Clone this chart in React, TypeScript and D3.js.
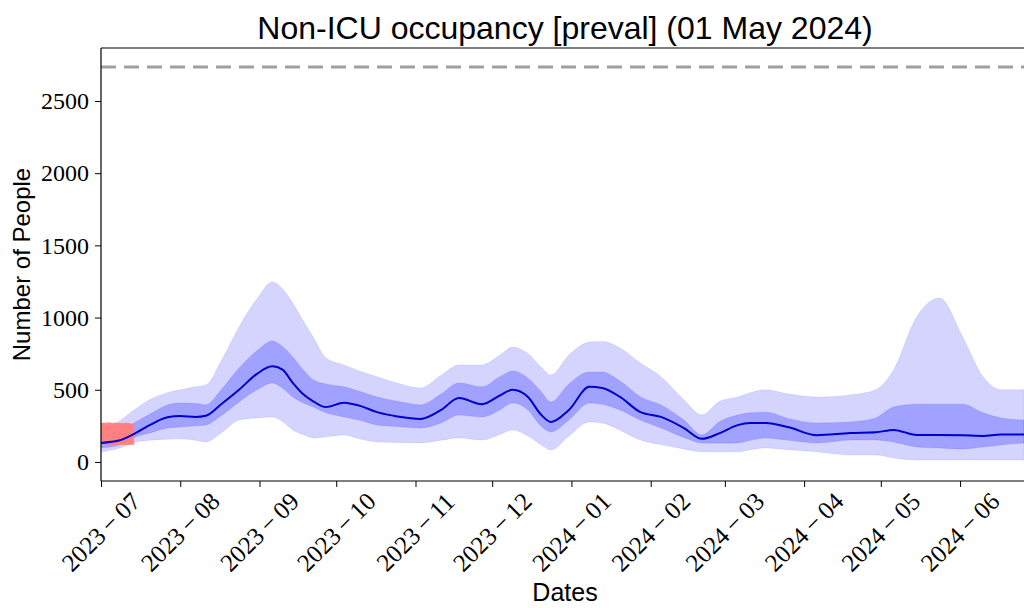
import { useRef, useEffect } from "react";
import * as d3 from "d3";

// forecast dates (weekly-ish samples)
const dates = [
  "2023-07-01", "2023-07-08", "2023-07-14", "2023-07-20", "2023-07-27",
  "2023-08-01", "2023-08-07", "2023-08-11", "2023-08-17", "2023-08-24",
  "2023-08-31", "2023-09-06", "2023-09-10", "2023-09-14", "2023-09-18",
  "2023-09-22", "2023-09-27", "2023-10-04", "2023-10-10", "2023-10-17",
  "2023-10-25", "2023-11-03", "2023-11-11", "2023-11-18", "2023-11-27",
  "2023-12-04", "2023-12-09", "2023-12-15", "2023-12-20", "2023-12-24",
  "2023-12-31", "2024-01-08", "2024-01-13", "2024-01-20", "2024-01-28",
  "2024-02-05", "2024-02-14", "2024-02-21", "2024-02-28", "2024-03-06",
  "2024-03-11", "2024-03-17", "2024-03-26", "2024-04-06", "2024-04-19",
  "2024-04-29", "2024-05-06", "2024-05-15", "2024-05-24", "2024-06-02",
  "2024-06-10", "2024-06-17", "2024-06-26",
];

const median = [
  132, 148, 195, 255, 310, 318, 312, 320, 400, 500,
  610, 662, 640, 547, 470, 420, 380, 410, 390, 345,
  315, 298, 360, 443, 400, 460, 500, 450, 330, 277,
  360, 520, 512, 450, 345, 312, 235, 160, 200, 255,
  270, 270, 240, 185, 200, 205, 222, 187, 187, 185,
  180, 190, 190,
];

const lower50 = [
  97, 115, 170, 200, 235, 242, 250, 256, 320, 415,
  500, 547, 510, 450, 410, 380, 340, 312, 290, 256,
  245, 235, 270, 325, 312, 360, 408, 360, 250, 208,
  290, 408, 400, 360, 290, 235, 170, 132, 130, 132,
  150, 166, 150, 132, 152, 152, 138, 104, 97, 90,
  104, 118, 132,
];

const upper50 = [
  173, 215, 270, 330, 395, 408, 405, 395, 500, 650,
  770, 838, 800, 727, 640, 568, 540, 520, 490, 450,
  420, 395, 470, 547, 520, 590, 630, 580, 490, 415,
  540, 623, 623, 560, 450, 395, 290, 187, 280, 325,
  340, 345, 300, 270, 277, 305, 380, 400, 400, 400,
  340, 305, 290,
];

const lower95 = [
  70, 95, 135, 150, 158, 160, 150, 138, 200, 290,
  305, 312, 280, 222, 190, 166, 175, 187, 160, 138,
  135, 132, 150, 166, 152, 190, 222, 180, 120, 83,
  180, 277, 270, 220, 152, 120, 90, 70, 70, 70,
  85, 97, 85, 70, 48, 48, 28, 14, 14, 14,
  14, 14, 14,
];

const upper95 = [
  208, 280, 360, 430, 480, 500, 520, 533, 700, 935,
  1130, 1247, 1200, 1100, 980, 865, 720, 672, 630, 590,
  545, 512, 600, 672, 672, 740, 796, 750, 660, 602,
  740, 830, 835, 790, 685, 590, 430, 325, 420, 450,
  480, 500, 470, 450, 464, 500, 637, 1004, 1135, 865,
  590, 500, 500,
];

// observed data (red markers), several per day
const obsDates = [
  "2023-07-01", "2023-07-02", "2023-07-03", "2023-07-04", "2023-07-05",
  "2023-07-06", "2023-07-07", "2023-07-08", "2023-07-09", "2023-07-10",
  "2023-07-11", "2023-07-12", "2023-07-13",
];
const obsValues = [
  [140, 170, 200, 228, 250],
  [142, 168, 198, 225, 254],
  [138, 170, 202, 230, 248],
  [140, 172, 196, 226, 256],
  [138, 168, 200, 232, 252],
  [136, 166, 194, 224, 249],
  [140, 170, 200, 229, 255],
  [137, 168, 197, 227, 251],
  [135, 166, 195, 226, 253],
  [139, 170, 199, 230, 248],
  [136, 167, 196, 225, 254],
  [138, 168, 198, 228, 250],
  [136, 166, 194, 224, 247],
];

const capacity = 2735;
const yTicks = [0, 500, 1000, 1500, 2000, 2500];
const xTickLabels = [
  "2023-07", "2023-08", "2023-09", "2023-10", "2023-11", "2023-12",
  "2024-01", "2024-02", "2024-03", "2024-04", "2024-05", "2024-06",
];

export default function App() {
  const ref = useRef<HTMLDivElement>(null);

  function init() {
    const el = ref.current!;
    el.innerHTML = "";

    const W = 1024, H = 608;
    const margin = { top: 48, right: 0, bottom: 127, left: 101 };
    const height = H - margin.top - margin.bottom;

    const parse = d3.utcParse("%Y-%m-%d");
    const parseM = d3.utcParse("%Y-%m");

    const svg = d3
      .select(el)
      .append("svg")
      .attr("width", W)
      .attr("height", H)
      .style("position", "absolute")
      .style("left", "0px")
      .style("top", "0px")
      .style("background", "#fff");

    const x = d3
      .scaleUtc()
      .domain([parse("2023-07-01")!, parse("2024-06-26")!])
      .range([margin.left, W - margin.right]);
    const y = d3
      .scaleLinear()
      .domain([-132, 2867])
      .range([margin.top + height, margin.top]);

    const rows = dates.map((d, i) => ({
      t: parse(d)!,
      med: median[i],
      lo50: lower50[i],
      hi50: upper50[i],
      lo95: lower95[i],
      hi95: upper95[i],
    }));

    svg
      .append("defs")
      .append("clipPath")
      .attr("id", "plot-clip")
      .append("rect")
      .attr("x", margin.left)
      .attr("y", margin.top)
      .attr("width", W - margin.left)
      .attr("height", height);

    const plot = svg.append("g").attr("clip-path", "url(#plot-clip)");

    // capacity line
    plot
      .append("line")
      .attr("x1", margin.left)
      .attr("x2", W)
      .attr("y1", y(capacity))
      .attr("y2", y(capacity))
      .attr("stroke", "#a0a0a0")
      .attr("stroke-width", 3)
      .attr("stroke-dasharray", "15 8");

    const curve = d3.curveMonotoneX;

    // 95% band
    const area95 = d3
      .area<any>()
      .x((d) => x(d.t))
      .y0((d) => y(d.lo95))
      .y1((d) => y(d.hi95))
      .curve(curve);
    plot
      .append("path")
      .datum(rows)
      .attr("d", area95)
      .attr("fill", "blue")
      .attr("fill-opacity", 0.17)
      .attr("stroke", "blue")
      .attr("stroke-opacity", 0.08);

    // 50% band
    const area50 = d3
      .area<any>()
      .x((d) => x(d.t))
      .y0((d) => y(d.lo50))
      .y1((d) => y(d.hi50))
      .curve(curve);
    plot
      .append("path")
      .datum(rows)
      .attr("d", area50)
      .attr("fill", "blue")
      .attr("fill-opacity", 0.24)
      .attr("stroke", "blue")
      .attr("stroke-opacity", 0.1);

    // observations
    const obs = obsDates.flatMap((d, i) =>
      obsValues[i].map((v) => ({ t: parse(d)!, v }))
    );
    plot
      .append("g")
      .selectAll("rect")
      .data(obs)
      .join("rect")
      .attr("x", (d) => x(d.t) - 2.5)
      .attr("y", (d) => y(d.v) - 2.5)
      .attr("width", 5)
      .attr("height", 5)
      .attr("fill", "#ff8080")
      .attr("fill-opacity", 0.9);

    // median
    const line = d3
      .line<any>()
      .x((d) => x(d.t))
      .y((d) => y(d.med))
      .curve(curve);
    plot
      .append("path")
      .datum(rows)
      .attr("d", line)
      .attr("fill", "none")
      .attr("stroke", "#0000c8")
      .attr("stroke-width", 2);

    // Axes
    const serif = "'Liberation Serif', 'DejaVu Serif', serif";
    const sans = "'Liberation Sans', Arial, sans-serif";

    const yAxis = d3
      .axisLeft(y)
      .tickValues(yTicks)
      .tickSize(6)
      .tickPadding(6)
      .tickFormat((d) => String(d));
    const gy = svg
      .append("g")
      .attr("transform", `translate(${margin.left},0)`)
      .call(yAxis);
    gy.select(".domain").remove();
    gy.selectAll("text")
      .attr("font-family", serif)
      .attr("font-size", 24)
      .attr("fill", "#000");

    const xTickDates = xTickLabels.map((s) => parseM(s)!);
    const xAxis = d3
      .axisBottom(x)
      .tickValues(xTickDates)
      .tickSize(6)
      .tickFormat(() => "");
    const gx = svg
      .append("g")
      .attr("transform", `translate(0,${margin.top + height})`)
      .call(xAxis);
    gx.select(".domain").remove();

    svg
      .append("g")
      .selectAll("text")
      .data(xTickLabels)
      .join("text")
      .attr("transform", (d) => `translate(${x(parseM(d)!)},${margin.top + height + 51}) rotate(-45)`)
      .attr("text-anchor", "middle")
      .attr("dominant-baseline", "central")
      .attr("font-family", serif)
      .attr("font-size", 25)
      .attr("fill", "#000")
      .text((d) => d.replace("-", "\u2009\u2212\u2009"));

    // Frame (left, bottom, top spines)
    const frame = svg.append("g").attr("stroke", "#000").attr("stroke-width", 1.2);
    frame.append("line").attr("x1", margin.left).attr("x2", margin.left)
      .attr("y1", margin.top).attr("y2", margin.top + height);
    frame.append("line").attr("x1", margin.left).attr("x2", W)
      .attr("y1", margin.top + height).attr("y2", margin.top + height);
    frame.append("line").attr("x1", margin.left).attr("x2", W)
      .attr("y1", margin.top).attr("y2", margin.top);

    // Labels
    svg.append("text")
      .attr("x", 565)
      .attr("y", 39)
      .attr("text-anchor", "middle")
      .attr("font-family", sans)
      .attr("font-size", 32)
      .text("Non-ICU occupancy [preval] (01 May 2024)");

    svg.append("text")
      .attr("x", 565)
      .attr("y", 601)
      .attr("text-anchor", "middle")
      .attr("font-family", sans)
      .attr("font-size", 25)
      .text("Dates");

    svg.append("text")
      .attr("transform", `translate(30,${margin.top + height / 2}) rotate(-90)`)
      .attr("text-anchor", "middle")
      .attr("font-family", sans)
      .attr("font-size", 24)
      .text("Number of People");
  }

  useEffect(init, []);

  return <div ref={ref}></div>;
}
